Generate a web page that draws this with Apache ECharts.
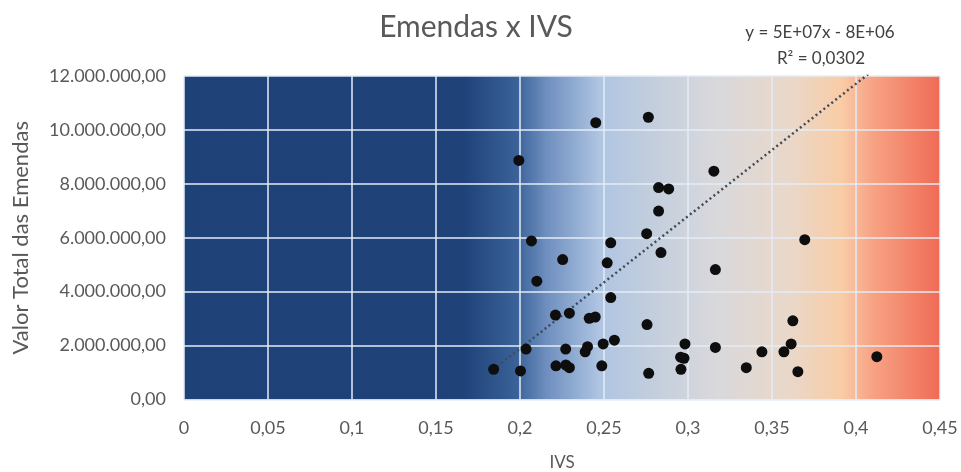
<!DOCTYPE html>
<html>
<head>
<meta charset="utf-8">
<script src="https://cdn.jsdelivr.net/npm/echarts@6/dist/echarts.min.js"></script>
<style>
html,body{margin:0;padding:0;background:#fff;}
#chart{width:961px;height:472px;}
</style>
</head>
<body>
<div id="chart"></div>
<script>
// IVS values (x)
const ivs = [0.1843,0.1993,0.2003,0.2036,0.2068,0.2100,0.2211,0.2214,0.2254,0.2272,
             0.2273,0.2294,0.2294,0.2388,0.2402,0.2412,0.2448,0.2451,0.2487,0.2495,
             0.2519,0.2540,0.2540,0.2562,0.2754,0.2756,0.2764,0.2766,0.2825,0.2825,
             0.2839,0.2885,0.2956,0.2976,0.2958,0.2982,0.3154,0.3163,0.3163,0.3347,
             0.3440,0.3571,0.3614,0.3624,0.3654,0.3695,0.4124];
// Valor Total das Emendas (y)
const valores = [1120000,8870000,1060000,1870000,5880000,4390000,3130000,1250000,5190000,1870000,
                 1280000,3200000,1180000,1770000,1960000,3010000,3060000,10270000,1250000,2060000,
                 5070000,5810000,3780000,2200000,6150000,2780000,10470000,970000,7860000,6990000,
                 5450000,7810000,1570000,1530000,1120000,2060000,8470000,4820000,1930000,1180000,
                 1770000,1770000,2060000,2920000,1030000,5930000,1590000];
// Trendline endpoints (as drawn, clipped at axis max)
const trendX = [0.1843, 0.4124];
const trendY = [1120000, 12320000];
const titleText = 'Emendas x IVS';
const eqText = 'y = 5E+07x - 8E+06';
const r2Text = 'R² = 0,0302';

const chart = echarts.init(document.getElementById('chart'));
const font = 'Lato, "Open Sans", sans-serif';
function fmtBR(v){
  const s = Math.round(v).toString().replace(/\B(?=(\d{3})+(?!\d))/g,'.');
  return s + ',00';
}
const option = {
  animation:false,
  backgroundColor:'#ffffff',
  graphic:[
    {type:'text',x:476,y:27,style:{text:titleText,font:'30px '+font,fill:'#595959',align:'center',verticalAlign:'middle'}},
    {type:'text',x:820,y:33,style:{text:eqText,font:'17px '+font,fill:'#404040',align:'center',verticalAlign:'middle'}},
    {type:'text',x:821,y:59,style:{text:r2Text,font:'17px '+font,fill:'#404040',align:'center',verticalAlign:'middle'}}
  ],
  grid:{left:184,right:21,top:76,bottom:72.5,show:true,borderWidth:0,
    containLabel:false,outerBoundsMode:'none',
    backgroundColor:new echarts.graphic.LinearGradient(0,0,1,0,[
      {offset:0,color:'#1E4178'},
      {offset:0.37,color:'#1F4279'},
      {offset:0.44,color:'#3A6298'},
      {offset:0.48,color:'#6F8FBF'},
      {offset:0.55,color:'#AFC5E2'},
      {offset:0.62,color:'#C3CEDD'},
      {offset:0.70,color:'#D8D8DC'},
      {offset:0.80,color:'#E9D8CA'},
      {offset:0.87,color:'#F9CCA6'},
      {offset:0.91,color:'#F7A385'},
      {offset:1,color:'#EF6B55'}
    ])},
  xAxis:{type:'value',min:0,max:0.45,interval:0.05,
    name:'IVS',nameLocation:'middle',nameGap:55,
    nameTextStyle:{fontFamily:font,fontSize:17,color:'#595959'},
    axisLine:{show:false},axisTick:{show:false},
    axisLabel:{margin:20,fontFamily:font,fontSize:18,color:'#595959',
      formatter:v=>parseFloat(v.toFixed(2)).toString().replace('.',',')},
    splitLine:{show:true,lineStyle:{color:'#E4ECF6',width:1.5}}},
  yAxis:{type:'value',min:0,max:12000000,interval:2000000,
    name:'Valor Total das Emendas',nameLocation:'middle',nameGap:152,
    nameTextStyle:{fontFamily:font,fontSize:22,color:'#595959'},
    axisLine:{show:false},axisTick:{show:false},
    axisLabel:{margin:18,fontFamily:font,fontSize:18,color:'#595959',formatter:fmtBR},
    splitLine:{show:true,lineStyle:{color:'#E4ECF6',width:1.5}}},
  series:[
    {type:'scatter',data:ivs.map((x,i)=>[x,valores[i]]),symbolSize:11,
      itemStyle:{color:'#0E0E0E',opacity:1},z:3},
    {type:'line',data:trendX.map((x,i)=>[x,trendY[i]]),symbol:'none',clip:true,
      lineStyle:{color:'#3F4A5A',width:2.5,type:[2,3]},z:2}
  ]
};
chart.setOption(option);
</script>
</body>
</html>
